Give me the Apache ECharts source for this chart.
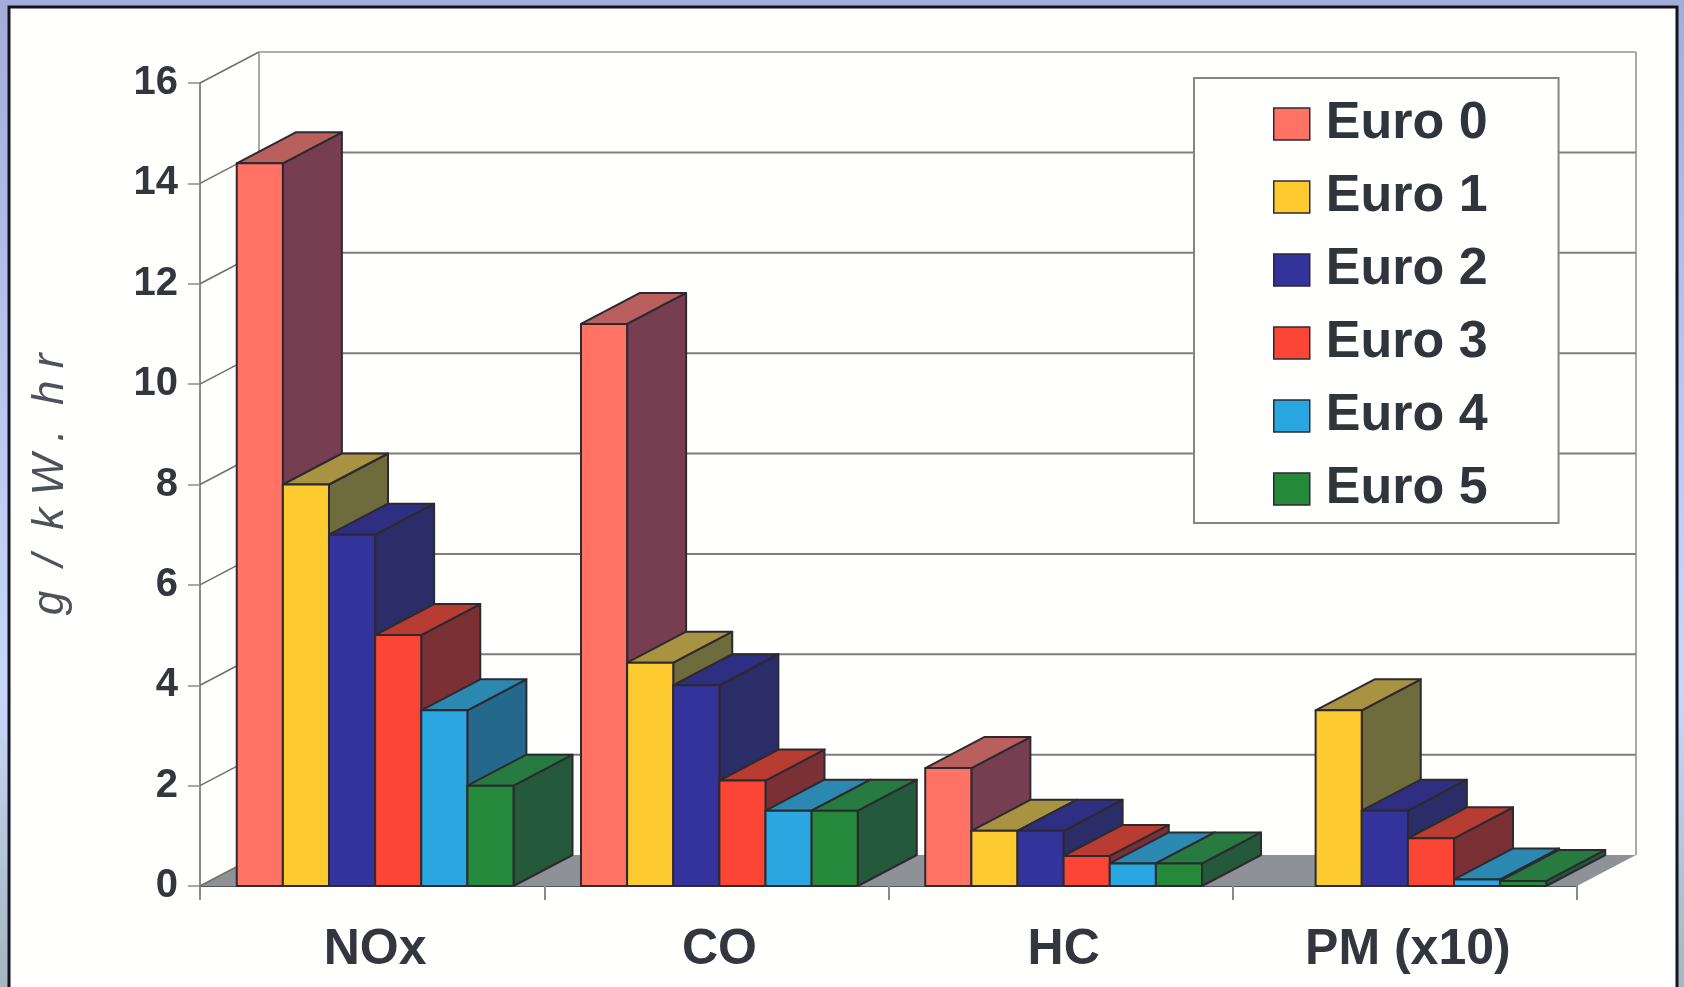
<!DOCTYPE html>
<html>
<head>
<meta charset="utf-8">
<title>Euro emission limits</title>
<style>
    html, body { margin: 0; padding: 0; }
    #main { width: 1684px; height: 987px; }
</style>
</head>
<body>
<div id="main"></div>
<script src="https://cdn.jsdelivr.net/npm/echarts@6/dist/echarts.min.js"></script>
<script>
    var categories = ['NOx', 'CO', 'HC', 'PM (x10)'];
    var euro0 = [14.4, 11.2, 2.35, null];
    var euro1 = [8.0, 4.45, 1.1, 3.5];
    var euro2 = [7.0, 4.0, 1.1, 1.5];
    var euro3 = [5.0, 2.1, 0.6, 0.95];
    var euro4 = [3.5, 1.5, 0.45, 0.13];
    var euro5 = [2.0, 1.5, 0.45, 0.1];
    var yTicks = [0, 2, 4, 6, 8, 10, 12, 14, 16];
    var names = ['Euro 0', 'Euro 1', 'Euro 2', 'Euro 3', 'Euro 4', 'Euro 5'];
    var values = [euro0, euro1, euro2, euro3, euro4, euro5];

    // front, top and side face of each box
    var faces = [
        ['#ff7264', '#b9605f', '#763e50'],
        ['#fdca30', '#a89342', '#6e6b3c'],
        ['#34339b', '#2e2f82', '#2b2d69'],
        ['#fb4535', '#b83c31', '#7b3036'],
        ['#2aa6e1', '#2a88b1', '#24698c'],
        ['#24893b', '#277b41', '#25593b']
    ];
    var edge = '#2c2a30';
    var depthX = 59;
    var depthY = 31;
    var barRatio = 0.134;
    var barShift = 3;

    var chart = echarts.init(document.getElementById('main'));

    // walls, floor and back grid lines of the fake 3d box
    function renderFrame(params, api) {
        var x0 = params.coordSys.x;
        var x1 = x0 + params.coordSys.width;
        var y0 = api.coord([0, 0])[1];
        var children = [{
            type: 'polygon',
            shape: {points: [[x0, y0], [x1, y0], [x1 + depthX, y0 - depthY], [x0 + depthX, y0 - depthY]]},
            style: {fill: '#8e9196'}
        }];
        yTicks.forEach(function (t) {
            var y = api.coord([0, t])[1];
            children.push({
                type: 'line',
                shape: {x1: x0, y1: y, x2: x0 + depthX, y2: y - depthY},
                style: {stroke: '#6f6f6f', lineWidth: 1.5}
            });
            if (t > 0) {
                children.push({
                    type: 'line',
                    shape: {x1: x0 + depthX, y1: y - depthY, x2: x1 + depthX, y2: y - depthY},
                    style: {stroke: t === 16 ? '#b0b0b0' : '#7d7d7d', lineWidth: 2}
                });
            }
        });
        var top = api.coord([0, 16])[1] - depthY;
        [x0 + depthX, x1 + depthX].forEach(function (x) {
            children.push({
                type: 'line',
                shape: {x1: x, y1: top, x2: x, y2: y0 - depthY},
                style: {stroke: '#8c8c8c', lineWidth: 1.5}
            });
        });
        return {type: 'group', children: children};
    }

    function renderBox(index) {
        return function (params, api) {
            var v = api.value(1);
            if (isNaN(v)) {
                return;
            }
            var base = api.coord([api.value(0), 0]);
            var y = api.coord([api.value(0), v])[1];
            var w = api.size([1, 0])[0] * barRatio;
            var x = base[0] + (index - 3) * w + barShift;
            var c = faces[index];
            function face(points, fill) {
                return {
                    type: 'polygon',
                    shape: {points: points},
                    style: {fill: fill, stroke: edge, lineWidth: 2, lineJoin: 'round'}
                };
            }
            return {
                type: 'group',
                children: [
                    face([[x + w, base[1]], [x + w + depthX, base[1] - depthY], [x + w + depthX, y - depthY], [x + w, y]], c[2]),
                    face([[x, y], [x + depthX, y - depthY], [x + w + depthX, y - depthY], [x + w, y]], c[1]),
                    face([[x, base[1]], [x + w, base[1]], [x + w, y], [x, y]], c[0])
                ]
            };
        };
    }

    var series = [{
        type: 'custom',
        silent: true,
        renderItem: renderFrame,
        data: [[0, 0]],
        encode: {x: 0, y: 1},
        z: 1
    }];
    names.forEach(function (name, i) {
        series.push({
            name: name,
            type: 'custom',
            renderItem: renderBox(i),
            encode: {x: 0, y: 1},
            itemStyle: {color: faces[i][0]},
            data: values[i].map(function (v, k) {
                return [k, v === null ? '-' : v];
            }),
            z: 2 + i
        });
    });

    var option = {
        animation: false,
        backgroundColor: {
            type: 'linear', x: 0, y: 0, x2: 0, y2: 1,
            colorStops: [
                {offset: 0, color: '#a3acdb'},
                {offset: 0.4, color: '#bac6f0'},
                {offset: 0.7, color: '#c9d6fb'},
                {offset: 1, color: '#a4b6bf'}
            ]
        },
        graphic: [{
            type: 'rect',
            z: -1,
            shape: {x: 9, y: 7, width: 1668, height: 1000},
            style: {fill: '#fffffd', stroke: '#14141c', lineWidth: 3}
        }],
        grid: {left: 200, right: 107, top: 83, bottom: 101},
        legend: {
            orient: 'vertical',
            left: 1194,
            top: 78,
            z: 20,
            padding: [20, 71, 8, 79],
            backgroundColor: '#fffffd',
            borderColor: '#858585',
            borderWidth: 2,
            itemWidth: 36,
            itemHeight: 32,
            itemGap: 21,
            icon: 'rect',
            data: names.map(function (name, i) {
                return {name: name, itemStyle: {color: faces[i][0], borderColor: edge, borderWidth: 1.5}};
            }),
            textStyle: {
                color: '#30343b',
                fontFamily: 'Liberation Sans',
                fontWeight: 'bold',
                fontSize: 52,
                padding: [14, 0, 0, 11]
            }
        },
        xAxis: {
            type: 'category',
            data: categories,
            boundaryGap: true,
            axisLine: {lineStyle: {color: '#55555a', width: 2}},
            axisTick: {show: true, length: 14, lineStyle: {color: '#8a8a8a', width: 2}},
            axisLabel: {
                color: '#33373d',
                fontFamily: 'Liberation Sans',
                fontWeight: 'bold',
                fontSize: 50,
                margin: 39,
                padding: [0, 0, 0, 6]
            }
        },
        yAxis: {
            type: 'value',
            min: 0,
            max: 16,
            interval: 2,
            name: 'g  /  k W .  h r',
            nameLocation: 'middle',
            nameGap: 127,
            nameTextStyle: {
                color: '#4c5258',
                fontFamily: 'Liberation Sans',
                fontStyle: 'italic',
                fontSize: 44
            },
            axisLine: {show: true, lineStyle: {color: '#8c8c8c', width: 2}},
            axisTick: {show: true, length: 12, lineStyle: {color: '#8c8c8c', width: 1.5}},
            splitLine: {show: false},
            axisLabel: {
                color: '#33373d',
                fontFamily: 'Liberation Sans',
                fontWeight: 'bold',
                fontSize: 40,
                margin: 22
            }
        },
        series: series
    };

    chart.setOption(option);
</script>
</body>
</html>
